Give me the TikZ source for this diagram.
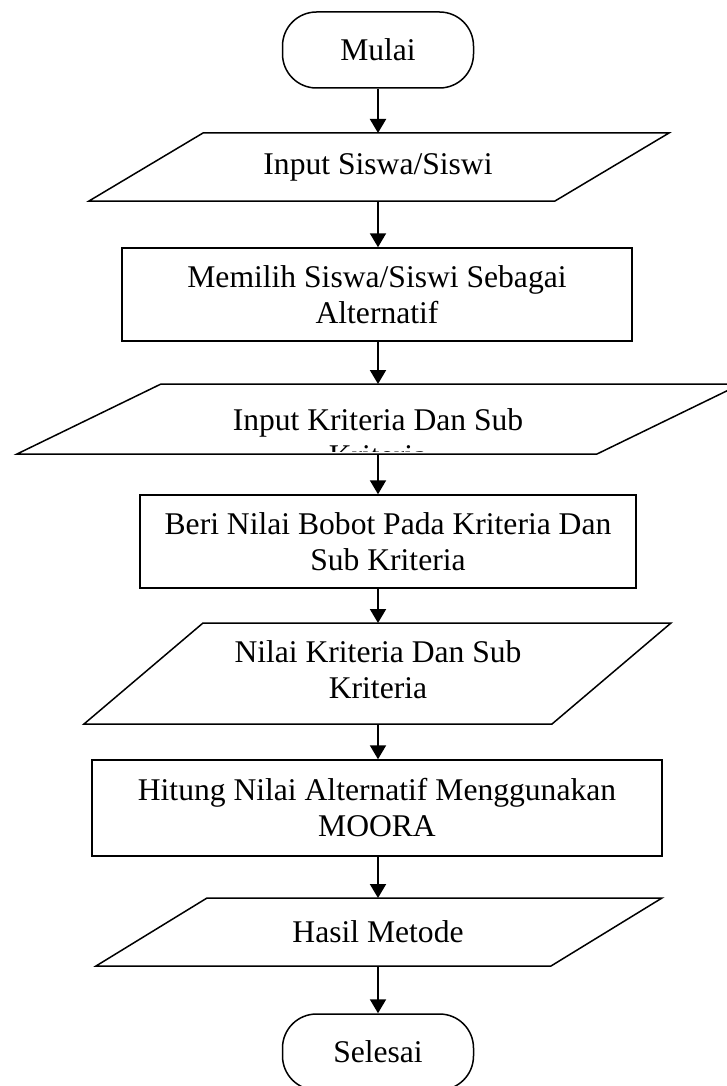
\documentclass[tikz,border=0pt]{standalone}
\usepackage{fontspec}
\setmainfont{Liberation Serif}
\usetikzlibrary{arrows.meta}

% parallelogram: name, top y, bottom y, bottom-left x, top-left x, width
\newcommand\parabox[6]{%
  \draw[shape line] (#4,#3) -- (#5,#2) -- ({#5+#6},#2) -- ({#4+#6},#3) -- cycle;
  \coordinate (#1-n) at (378,#2);
  \coordinate (#1-s) at (378,#3);}

\begin{document}
\begin{tikzpicture}[x=1pt,y=-1pt,
  every node/.style={font=\fontsize{31.6}{36}\selectfont, inner sep=0pt, align=center},
  shape line/.style={line width=1.5pt, line join=miter},
  terminal/.style={draw, shape line, rounded corners=34pt, minimum width=191pt, minimum height=76pt},
  process/.style={draw, shape line, rectangle},
  flow/.style={line width=2pt, -{Triangle[length=14pt,width=16pt]}}]
\clip (0,0) rectangle (727,1086);

% start
\node[terminal] (start) at (378,50) {Mulai};

% input students
\parabox{in1}{133}{201}{89}{203}{466}
\node (in1) at (378,167) {Input Siswa/Siswi};

% choose alternatives
\node[process, minimum width=510pt, minimum height=93pt] (choose) at (377,294.5)
  {Memilih Siswa/Siswi Sebagai\\Alternatif};

% input criteria (text box cut off at its lower edge)
\parabox{in2}{384}{454}{17}{161}{580}
\begin{scope}
  \clip (0,384) rectangle (727,451);
  \node (in2) at (378,438) {Input Kriteria Dan Sub\\Kriteria};
\end{scope}

% weights
\node[process, minimum width=496pt, minimum height=93pt] (weight) at (388,541.5)
  {Beri Nilai Bobot Pada Kriteria Dan\\Sub Kriteria};

% criteria values
\parabox{in3}{623}{724}{84}{203}{468}
\node (in3) at (378,670) {Nilai Kriteria Dan Sub\\Kriteria};

% computation
\node[process, minimum width=570pt, minimum height=96pt] (calc) at (377,808)
  {Hitung Nilai Alternatif Menggunakan\\MOORA};

% result
\parabox{out}{898}{966}{96}{207}{455}
\node (out) at (378,932) {Hasil Metode};

% end
\node[terminal] (stop) at (378,1052) {Selesai};

% connectors
\draw[flow] (start) -- (in1-n);
\draw[flow] (in1-s) -- (in1-s |- choose.north);
\draw[flow] (in1-s |- choose.south) -- (in2-n);
\draw[flow] (in2-s) -- (in2-s |- weight.north);
\draw[flow] (in2-s |- weight.south) -- (in3-n);
\draw[flow] (in3-s) -- (in3-s |- calc.north);
\draw[flow] (in3-s |- calc.south) -- (out-n);
\draw[flow] (out-s) -- (stop);
\end{tikzpicture}
\end{document}
